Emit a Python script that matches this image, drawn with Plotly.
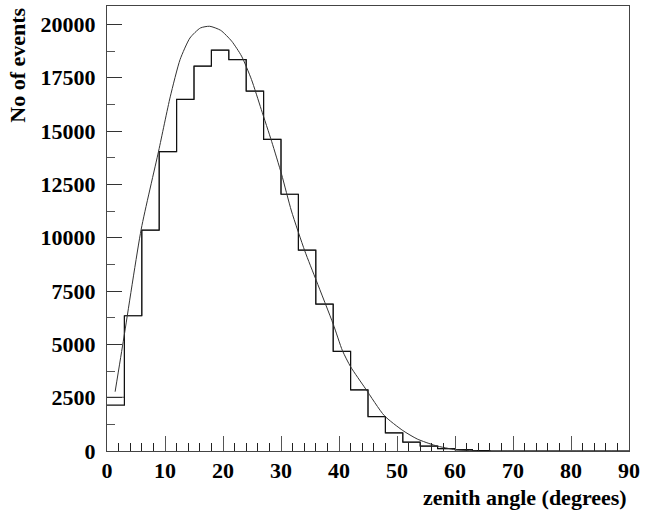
import plotly.graph_objects as go

# ---- data ----
bin_width = 3
bin_left = list(range(0, 90, 3))  # 0..87
hist_data = [2150, 6340, 10350, 14030, 16480, 18040, 18790, 18350, 16870, 14610,
             12035, 9415, 6888, 4670, 2864, 1614, 850, 412, 230, 110,
             60, 20, 0, 0, 0, 0, 0, 0, 0, 0]
hist_ref = [2520, 6340, 10350, 14030, 16480, 18040, 18790, 18350, 16870, 14610,
            12035, 9415, 6888, 4670, 2864, 1614, 850, 412, 230, 110,
            60, 20, 0, 0, 0, 0, 0, 0, 0, 0]

fit_x = [1.4, 2.9, 5.9, 8.9, 10.9, 12.6, 14.3, 16.1, 17.7, 19.6, 21.5, 23.2, 24.9,
         26.6, 28.4, 30.1, 31.8, 34.1, 36.1, 39.0, 40.6, 42.0, 44.6, 47.8, 51.0,
         53.5, 56.6, 60.1, 63.8]
fit_y = [2780, 5300, 10400, 14060, 16600, 18350, 19360, 19830, 19910, 19720, 19210,
         18510, 17420, 16010, 14500, 12970, 11250, 9380, 7980, 5950, 4700, 3950,
         2910, 1660, 960, 560, 257, 60, 0]

x_title = "zenith angle (degrees)"
y_title = "No of events"

FONT = "Liberation Serif"


def steps(left, vals, w):
    xs = list(left) + [left[-1] + w]
    ys = list(vals) + [vals[-1]]
    return xs, ys


fig = go.Figure()

xs, ys = steps(bin_left, hist_ref, bin_width)
fig.add_trace(go.Scatter(x=xs, y=ys, mode="lines", line=dict(color="#555555", width=1, shape="hv"),
                         hoverinfo="skip", showlegend=False))
xs, ys = steps(bin_left, hist_data, bin_width)
fig.add_trace(go.Scatter(x=xs, y=ys, mode="lines", line=dict(color="#111111", width=1.2, shape="hv"),
                         hoverinfo="skip", showlegend=False))
fig.add_trace(go.Scatter(x=fit_x, y=fit_y, mode="lines", line=dict(color="#333333", width=1, shape="spline", smoothing=0.6),
                         hoverinfo="skip", showlegend=False))

tickfont = dict(family=FONT, size=22, color="black", weight="bold")

fig.update_layout(
    width=645, height=520,
    margin=dict(l=107, r=12, t=5, b=69),
    paper_bgcolor="white", plot_bgcolor="white",
    showlegend=False,
    xaxis=dict(range=[0, 90], dtick=10, tick0=0, ticks="inside", ticklen=15, tickwidth=1, tickcolor="#555",
               minor=dict(dtick=2, ticks="inside", ticklen=8, tickwidth=1, tickcolor="#222"),
               showgrid=False, zeroline=False, showline=True, linecolor="#444", linewidth=1, mirror=True,
               tickfont=tickfont, ticklabelstandoff=0),
    yaxis=dict(range=[0, 20860], dtick=2500, tick0=0, ticks="inside", ticklen=15, tickwidth=1, tickcolor="#333",
               minor=dict(dtick=1250, ticks="inside", ticklen=8, tickwidth=1, tickcolor="#555"),
               showgrid=False, zeroline=False, showline=True, linecolor="#444", linewidth=1, mirror=True,
               tickformat="d", tickfont=tickfont, ticklabelstandoff=6),
    annotations=[
        dict(text=x_title, xref="paper", yref="paper", x=1.0, y=-0.105, xanchor="right", yanchor="middle",
             showarrow=False, font=dict(family=FONT, size=22, color="black", weight="bold")),
        dict(text=y_title, xref="paper", yref="paper", x=-0.172, y=1.0, xanchor="center", yanchor="top",
             textangle=-90, showarrow=False, font=dict(family=FONT, size=22, color="black", weight="bold")),
    ],
)

fig.write_html("out.html")
